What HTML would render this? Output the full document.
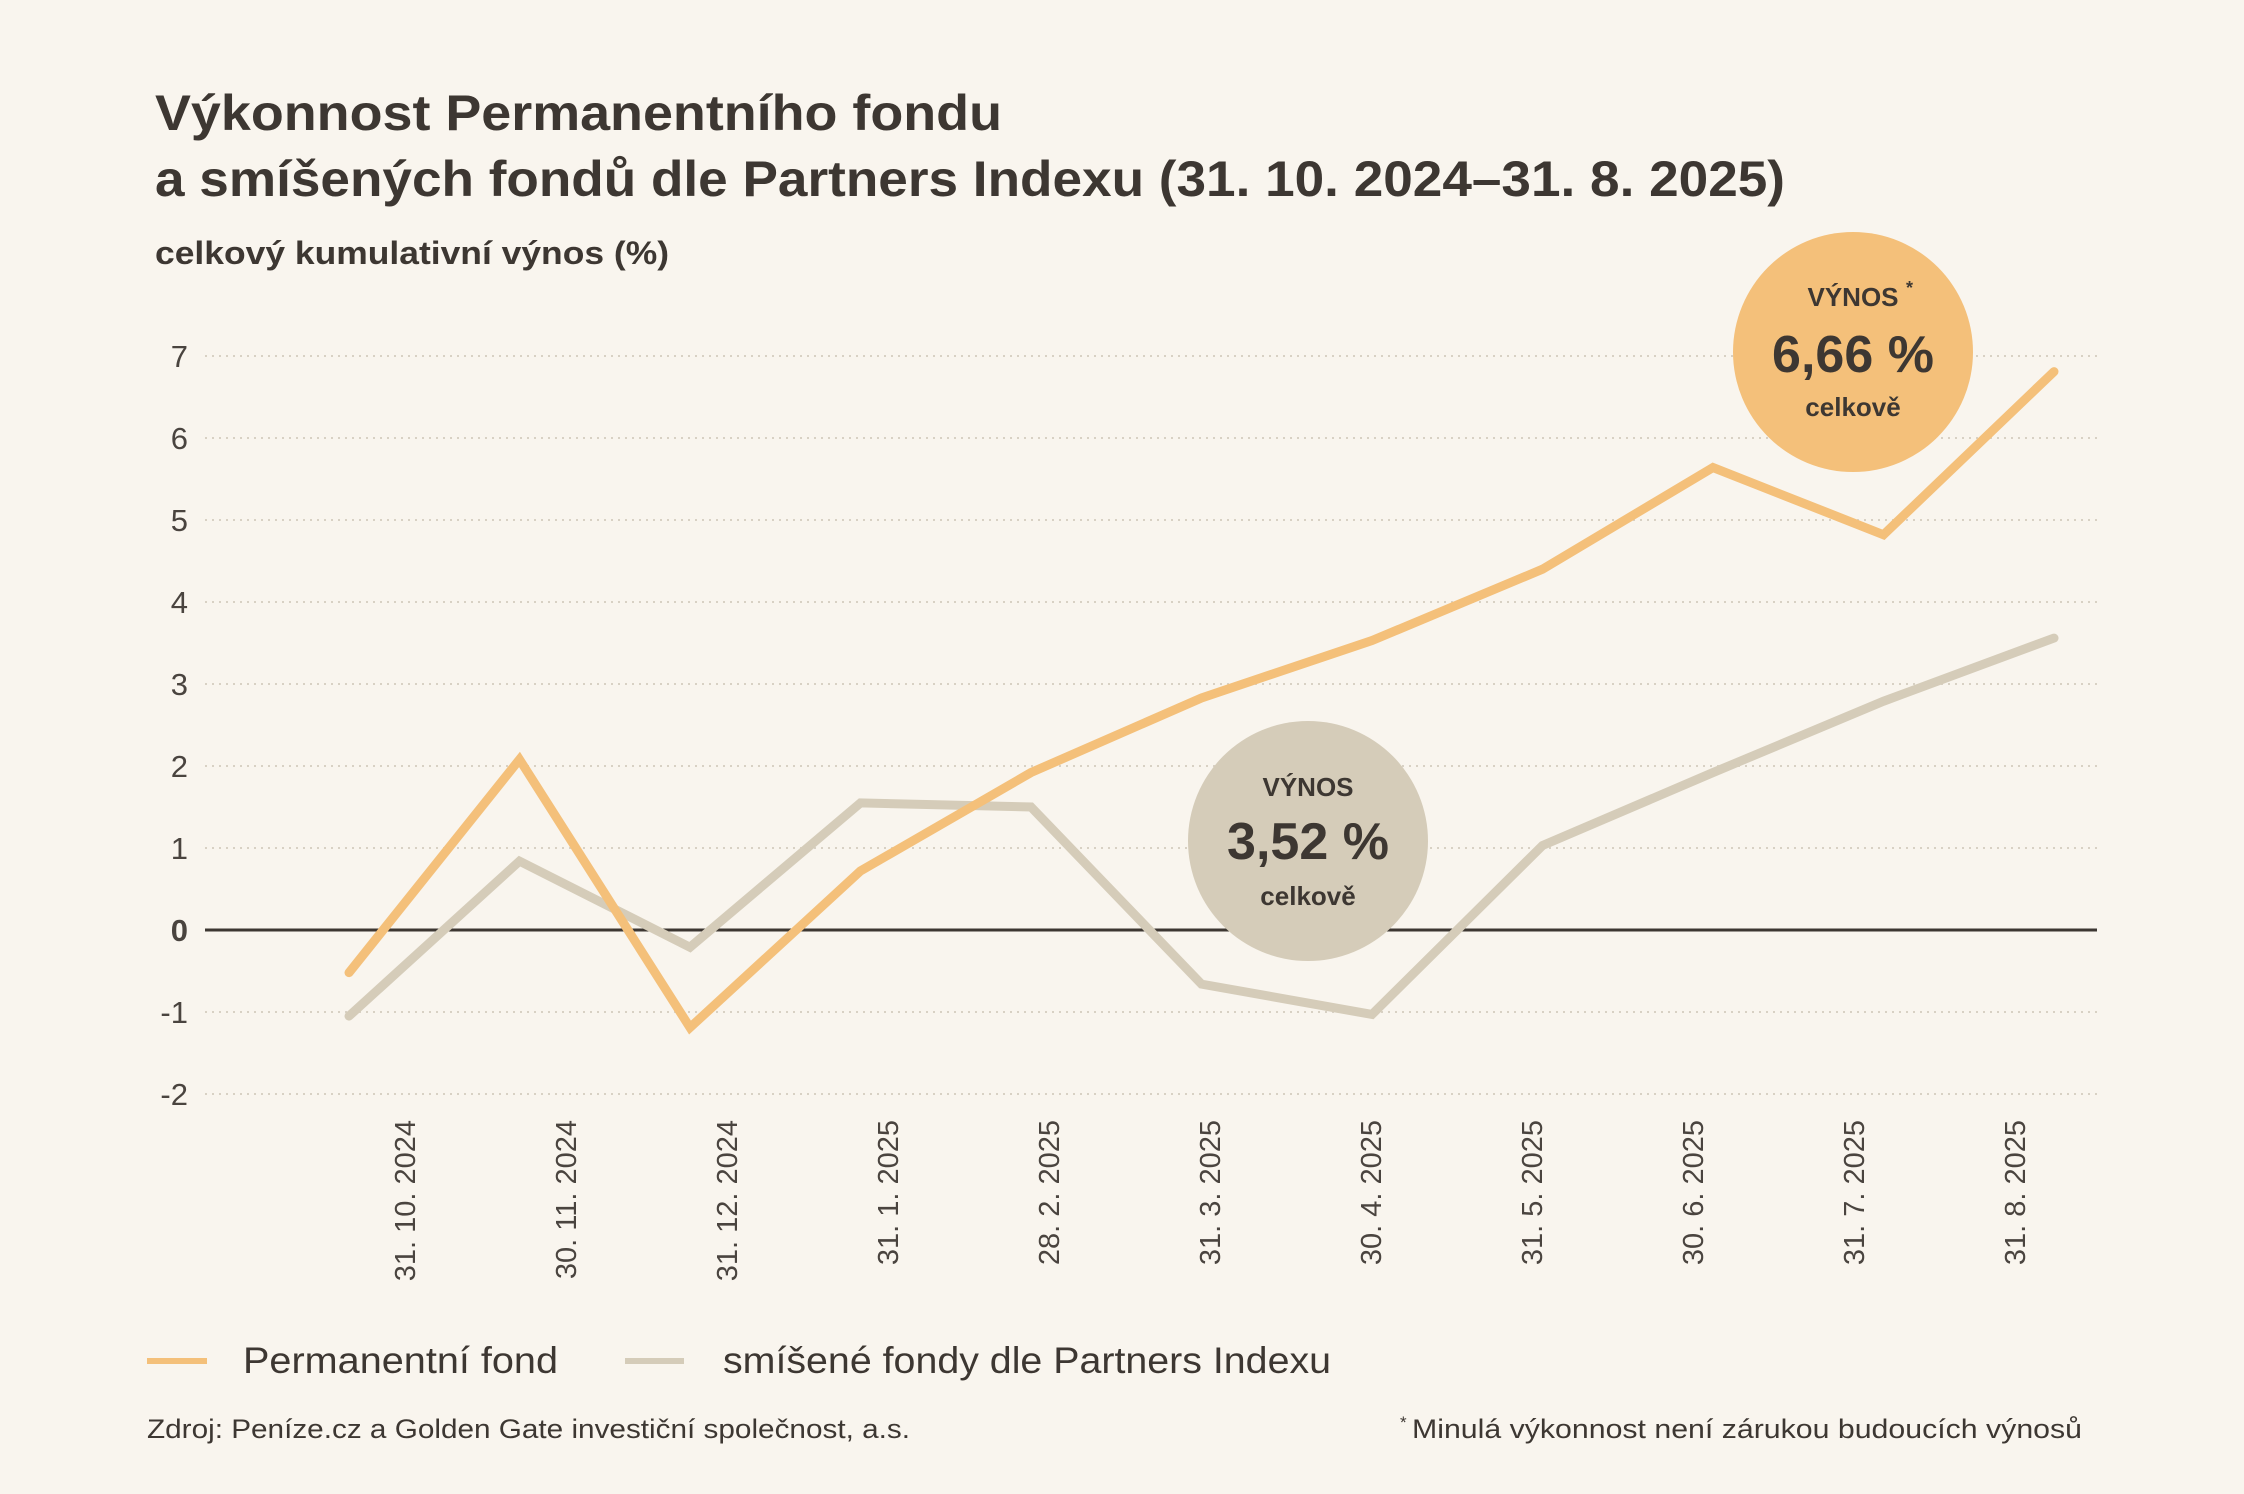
<!DOCTYPE html>
<html><head><meta charset="utf-8"><style>
html,body{margin:0;padding:0;background:#f9f5ee;}
svg{display:block;font-family:"Liberation Sans",sans-serif;}
</style></head><body>
<svg id="chart" width="2244" height="1494" viewBox="0 0 2244 1494" xmlns="http://www.w3.org/2000/svg">
<rect width="2244" height="1494" fill="#f9f5ee"/>
<text x="155" y="130" font-size="50" font-weight="bold" fill="#3d3732" textLength="847" lengthAdjust="spacingAndGlyphs">Výkonnost Permanentního fondu</text>
<text x="155" y="196" font-size="50" font-weight="bold" fill="#3d3732" textLength="1630" lengthAdjust="spacingAndGlyphs">a smíšených fondů dle Partners Indexu (31. 10. 2024–31. 8. 2025)</text>
<text x="155" y="264" font-size="32" font-weight="bold" fill="#3d3732" textLength="514" lengthAdjust="spacingAndGlyphs">celkový kumulativní výnos (%)</text>
<g id="grid"></g>
<g id="ylabels"></g>
<g id="xlabels"></g>
<g id="series"></g>
<g>
<circle cx="1853" cy="352" r="120" fill="#f4c07a"/>
<text x="1853" y="306" font-size="26" font-weight="bold" fill="#3d3732" text-anchor="middle">VÝNOS</text>
<text x="1906" y="294" font-size="18" font-weight="bold" fill="#3d3732">*</text>
<text x="1853" y="372" font-size="52" font-weight="bold" fill="#3d3732" text-anchor="middle">6,66 %</text>
<text x="1853" y="416" font-size="26" font-weight="bold" fill="#3d3732" text-anchor="middle">celkově</text>
</g>
<g>
<circle cx="1308" cy="841" r="120" fill="#d5ccb9"/>
<text x="1308" y="796" font-size="26" font-weight="bold" fill="#3d3732" text-anchor="middle">VÝNOS</text>
<text x="1308" y="859" font-size="52" font-weight="bold" fill="#3d3732" text-anchor="middle">3,52 %</text>
<text x="1308" y="905" font-size="26" font-weight="bold" fill="#3d3732" text-anchor="middle">celkově</text>
</g>
<g>
<g>
<line x1="147" y1="1361" x2="207" y2="1361" stroke="#f4c07a" stroke-width="6"/>
<text x="243" y="1373" font-size="37" fill="#3d3732" textLength="315" lengthAdjust="spacingAndGlyphs">Permanentní fond</text></g>
<g>
<line x1="625" y1="1361" x2="684" y2="1361" stroke="#d5ccb9" stroke-width="6"/>
<text x="723" y="1373" font-size="37" fill="#3d3732" textLength="608" lengthAdjust="spacingAndGlyphs">smíšené fondy dle Partners Indexu</text></g>
</g>
<text x="147" y="1438" font-size="27" fill="#3d3732" textLength="763" lengthAdjust="spacingAndGlyphs">Zdroj: Peníze.cz a Golden Gate  investiční společnost, a.s.</text>
<text x="1400" y="1438" font-size="17" fill="#3d3732" dy="-10">*</text>
<text x="2082" y="1438" font-size="27" fill="#3d3732" text-anchor="end" textLength="670" lengthAdjust="spacingAndGlyphs">Minulá výkonnost není zárukou budoucích výnosů</text>
</svg>
<script>
const categories=["31. 10. 2024","30. 11. 2024","31. 12. 2024","31. 1. 2025","28. 2. 2025","31. 3. 2025","30. 4. 2025","31. 5. 2025","30. 6. 2025","31. 7. 2025","31. 8. 2025"];
const permanentFund=[-0.52,2.08,-1.19,0.72,1.92,2.83,3.53,4.40,5.64,4.82,6.81];
const mixedFunds=[-1.05,0.84,-0.21,1.55,1.50,-0.66,-1.03,1.03,1.92,2.79,3.56];
const yTicks=[-2,-1,0,1,2,3,4,5,6,7];
const NS="http://www.w3.org/2000/svg";
const X0=349,XSTEP=170.5,Y0=930,YUNIT=82,GX1=205,GX2=2097;
const LX0=405,LSTEP=161;
function xs(i){return X0+i*XSTEP;}
function lx(i){return LX0+i*LSTEP;}
function ys(v){return Y0-v*YUNIT;}
function mk(tag,attrs,parent){const e=document.createElementNS(NS,tag);for(const k in attrs)e.setAttribute(k,attrs[k]);parent.appendChild(e);return e;}
const grid=document.getElementById('grid'),yl=document.getElementById('ylabels'),xl=document.getElementById('xlabels'),ser=document.getElementById('series');
yTicks.forEach(t=>{
  const ln=mk('line',{x1:GX1,x2:GX2,y1:ys(t),y2:ys(t),stroke:t===0?'#3d3732':'#d8d1c4','stroke-width':t===0?3:2,'stroke-dasharray':t===0?'none':'2 5'},grid);
  
  
  const tx=mk('text',{x:188,y:ys(t)+11,'font-size':31,fill:'#4a443f','text-anchor':'end','font-weight':t===0?'bold':'normal'},yl);
  tx.textContent=String(t);
  
  
});
categories.forEach((c,i)=>{
  const x=lx(i);
  const tx=mk('text',{x:x,y:1120,'font-size':29,fill:'#4a443f','text-anchor':'end',transform:'rotate(-90 '+x+' 1120)',dy:10},xl);
  tx.textContent=c;
  
  
});
function drawLine(vals,color,name){
  const pts=vals.map((v,i)=>xs(i)+','+ys(v)).join(' ');
  const p=mk('polyline',{points:pts,fill:'none',stroke:color,'stroke-width':9,'stroke-linejoin':'miter','stroke-linecap':'round'},ser);
  
  
}
drawLine(mixedFunds,'#d5ccb9','line-mixed-funds');
drawLine(permanentFund,'#f4c07a','line-permanent-fund');
</script>
</body></html>
